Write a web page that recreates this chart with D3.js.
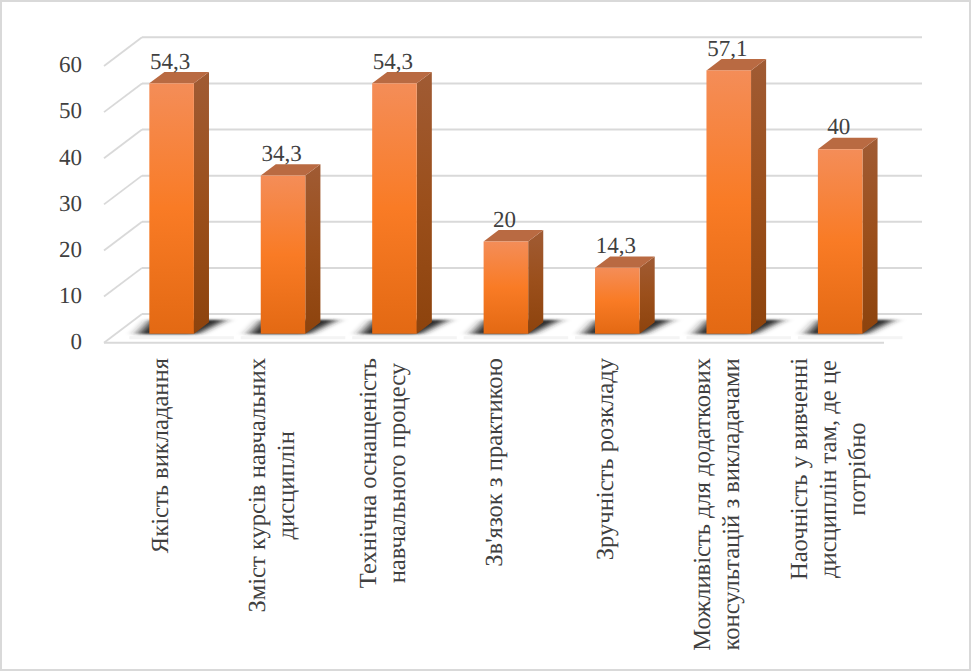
<!DOCTYPE html>
<html>
<head>
<meta charset="utf-8">
<script src="https://cdn.jsdelivr.net/npm/d3@7/dist/d3.min.js"></script>
<style>
  html, body { margin: 0; padding: 0; background: #fff; }
  svg { display: block; }
  text { font-family: "Liberation Serif", serif; fill: #404040; text-rendering: geometricPrecision; }
</style>
</head>
<body>
<svg id="chart"></svg>
<script>
const categories = ['Якість викладання', 'Зміст курсів', 'Технічна оснащеність', "Зв'язок з практикою", 'Зручність розкладу', 'Можливість консультацій', 'Наочність'];
const categoryLines = [
  ['Якість викладання'],
  ['Зміст курсів навчальних', 'дисциплін'],
  ['Технічна оснащеність', 'навчального процесу'],
  ["Зв'язок з практикою"],
  ['Зручність розкладу'],
  ['Можливість для додаткових', 'консультацій з викладачами'],
  ['Наочність у вивченні', 'дисциплін там, де це', 'потрібно']
];
const values = [54.3, 34.3, 54.3, 20, 14.3, 57.1, 40];
const valueLabels = ['54,3', '34,3', '54,3', '20', '14,3', '57,1', '40'];
const yTicks = [0, 10, 20, 30, 40, 50, 60];

const width = 971;
const height = 671;

// depth of the 3d box
const depthX = 38;
const depthY = -28.7;
const barFront = 0.313;
const barBack = 0.71;

const svg = d3.select('#chart').attr('width', width).attr('height', height);

const xScale = d3.scaleBand()
  .domain(categories)
  .range([104, 884])
  .paddingInner(0.6)
  .paddingOuter(0.3);

const yScale = d3.scaleLinear()
  .domain([0, 60])
  .range([342.7, 66]);

const px = (x, d) => x + d * depthX;
const py = (v, d) => yScale(v) + d * depthY;
const poly = pts => 'M' + pts.map(p => p.join(',')).join('L') + 'Z';

// gradients
const defs = svg.append('defs');
function addGradient(id, stops) {
  const g = defs.append('linearGradient').attr('id', id)
    .attr('x1', 0).attr('y1', 0).attr('x2', 0).attr('y2', 1);
  stops.forEach(s => g.append('stop').attr('offset', s[0]).attr('stop-color', s[1]));
}
addGradient('frontFill', [[0, '#f48d58'], [0.5, '#f97b25'], [1, '#e36913']]);
addGradient('sideFill', [[0, '#a05b34'], [0.5, '#9b4f1b'], [1, '#8d430d']]);

defs.append('filter').attr('id', 'shadowBlur')
  .attr('x', '-50%').attr('y', '-50%').attr('width', '200%').attr('height', '200%')
  .append('feGaussianBlur').attr('stdDeviation', '6 1.2');

// outer border
svg.append('rect')
  .attr('x', 1).attr('y', 1)
  .attr('width', width - 2).attr('height', height - 2)
  .attr('fill', '#fff').attr('stroke', '#d9d9d9').attr('stroke-width', 2);

// back wall and side wall lines
svg.append('g').selectAll('line.back')
  .data(yTicks)
  .enter()
  .append('line')
  .attr('class', 'back')
  .attr('x1', px(104, 1))
  .attr('x2', px(884, 1))
  .attr('y1', d => py(d, 1))
  .attr('y2', d => py(d, 1))
  .attr('stroke', '#d9d9d9')
  .attr('stroke-width', 2);

svg.append('g').selectAll('line.side')
  .data(yTicks)
  .enter()
  .append('line')
  .attr('class', 'side')
  .attr('x1', px(104, 0))
  .attr('x2', px(104, 1))
  .attr('y1', d => py(d, 0))
  .attr('y2', d => py(d, 1))
  .attr('stroke', '#d9d9d9')
  .attr('stroke-width', 1.8);

// floor front edge
svg.append('line')
  .attr('x1', 104).attr('x2', 884)
  .attr('y1', yScale(0)).attr('y2', yScale(0))
  .attr('stroke', '#d9d9d9').attr('stroke-width', 2);

// faint band and shadow on the floor
const bars = svg.append('g');
const bw = xScale.bandwidth();

bars.selectAll('.band')
  .data(categories)
  .enter()
  .append('rect')
  .attr('class', 'band')
  .attr('x', d => px(xScale(d), barFront) - 20)
  .attr('y', py(0, barFront) + 2.5)
  .attr('width', bw + 60)
  .attr('height', 3)
  .attr('fill', '#f4f4f4');

bars.selectAll('.shadow')
  .data(categories)
  .enter()
  .append('path')
  .attr('class', 'shadow')
  .attr('d', d => {
    const x0 = px(xScale(d), barFront);
    const x1 = x0 + bw;
    return poly([
      [x0 - 12, py(0, barFront) + 0.5],
      [x1 + 3, py(0, barFront) + 0.5],
      [x1 + 32, py(0, barBack) - 2.5],
      [x0 + 2, py(0, barBack) - 2.5]
    ]);
  })
  .attr('fill', '#262626')
  .attr('filter', 'url(#shadowBlur)');

// bars: side, top, front
bars.selectAll('.side')
  .data(values)
  .enter()
  .append('path')
  .attr('class', 'side')
  .attr('d', (v, i) => {
    const x1 = xScale(categories[i]) + bw;
    return poly([
      [px(x1, barFront), py(v, barFront)],
      [px(x1, barBack), py(v, barBack)],
      [px(x1, barBack), py(0, barBack)],
      [px(x1, barFront), py(0, barFront)]
    ]);
  })
  .attr('fill', 'url(#sideFill)');

bars.selectAll('.top')
  .data(values)
  .enter()
  .append('path')
  .attr('class', 'top')
  .attr('d', (v, i) => {
    const x0 = xScale(categories[i]);
    return poly([
      [px(x0, barFront), py(v, barFront)],
      [px(x0 + bw, barFront), py(v, barFront)],
      [px(x0 + bw, barBack), py(v, barBack)],
      [px(x0, barBack), py(v, barBack)]
    ]);
  })
  .attr('fill', '#b96a42');

bars.selectAll('.front')
  .data(values)
  .enter()
  .append('rect')
  .attr('class', 'front')
  .attr('x', (v, i) => px(xScale(categories[i]), barFront))
  .attr('y', v => py(v, barFront))
  .attr('width', bw)
  .attr('height', v => py(0, barFront) - py(v, barFront))
  .attr('fill', 'url(#frontFill)');

// value labels
svg.append('g').selectAll('text')
  .data(values)
  .enter()
  .append('text')
  .attr('x', (v, i) => px(xScale(categories[i]) + bw / 2, barFront) - 1.5)
  .attr('y', v => py(v, barFront) - 14.8)
  .attr('text-anchor', 'middle')
  .attr('font-size', 23)
  .text((v, i) => valueLabels[i]);

// y axis, labels only
const yAxis = svg.append('g')
  .attr('transform', 'translate(88,-1.5)')
  .call(d3.axisLeft(yScale).tickValues(yTicks).tickSize(0).tickPadding(6));
yAxis.select('.domain').remove();
yAxis.selectAll('text')
  .attr('font-size', 23)
  .attr('dy', '0.32em');

// category labels, rotated, centred on the longest line
const lineStep = 29;
const labelTop = 358;
const labels = svg.append('g').attr('font-size', 24.6);
categoryLines.forEach((lines, i) => {
  const mid = xScale(categories[i]) + bw / 2;
  const nodes = lines.map((line, j) => labels.append('text')
    .attr('text-anchor', 'middle')
    .text(line)
    .datum(mid + 8 - (lines.length - 1) * lineStep / 2 + j * lineStep));
  const longest = d3.max(nodes, n => n.node().getComputedTextLength());
  nodes.forEach(n => n.attr('transform', d => `translate(${d},${labelTop + longest / 2}) rotate(-90)`));
});
</script>
</body>
</html>
